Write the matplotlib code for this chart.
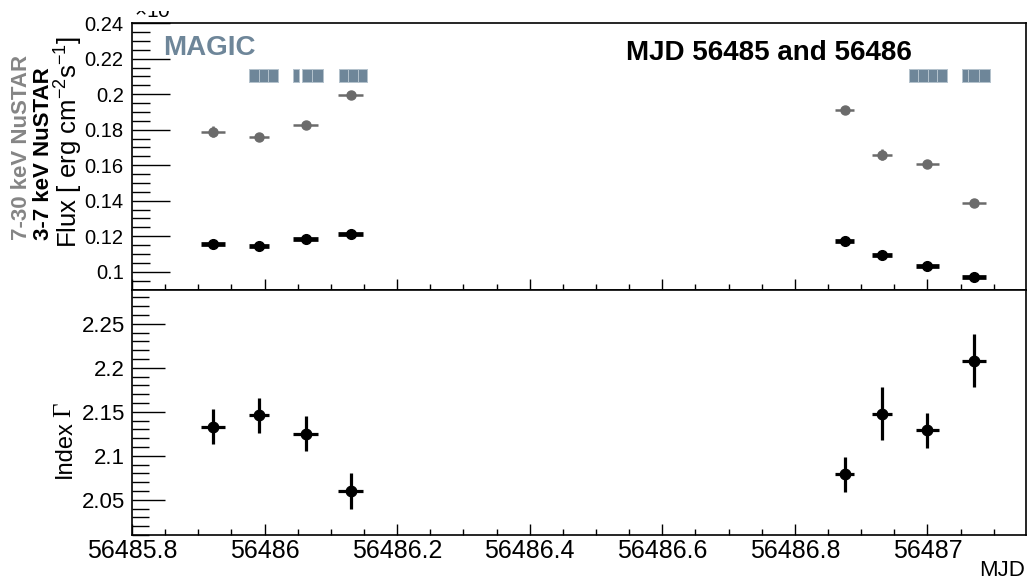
import matplotlib
matplotlib.use('Agg')

import matplotlib.pyplot as plt
from matplotlib.ticker import MultipleLocator, FuncFormatter
from matplotlib.transforms import Bbox

# --------------------------------------------------------------------------------------
# Data (flux in units of 1e-9 erg cm^-2 s^-1)

mjd         = [56485.922, 56485.992, 56486.062, 56486.130, 56486.875, 56486.932, 56487.000, 56487.070]
mjd_err     = [0.018, 0.015, 0.019, 0.019, 0.015, 0.015, 0.017, 0.018]

flux_3_7    = [0.1154, 0.1146, 0.1184, 0.1212, 0.1173, 0.1096, 0.1030, 0.0970]
flux_3_7_e  = [0.0008, 0.0008, 0.0008, 0.0008, 0.0008, 0.0008, 0.0008, 0.0008]

flux_7_30   = [0.1789, 0.1760, 0.1828, 0.1996, 0.1913, 0.1659, 0.1607, 0.1389]
flux_7_30_e = [0.0030, 0.0015, 0.0015, 0.0015, 0.0015, 0.0030, 0.0020, 0.0015]

index       = [2.133, 2.146, 2.125, 2.060, 2.079, 2.148, 2.129, 2.208]
index_err   = [0.020, 0.020, 0.020, 0.020, 0.020, 0.030, 0.020, 0.030]

# MAGIC observation windows (start, duration) in MJD
magic_obs = [(56485.977, 0.0143), (56485.9913, 0.0143), (56486.0056, 0.0143),
             (56486.043, 0.009),  (56486.056, 0.016),   (56486.072, 0.016),
             (56486.112, 0.0143), (56486.1263, 0.0143), (56486.1406, 0.0143),
             (56486.972, 0.01425), (56486.98625, 0.01425), (56487.0005, 0.01425), (56487.01475, 0.01425),
             (56487.052, 0.009),  (56487.062, 0.0165),  (56487.0785, 0.0165)]

# --------------------------------------------------------------------------------------
# Style

plt.rcParams['font.family'] = ['Liberation Sans', 'DejaVu Sans']
plt.rcParams['mathtext.fontset'] = 'custom'
plt.rcParams['mathtext.rm'] = 'Liberation Sans'
plt.rcParams['mathtext.it'] = 'Liberation Sans:italic'

magic_col = '#6e8699'
gray_col  = '#6b6b6b'

fig = plt.figure(figsize=(10.29, 5.82), dpi=100)
W, H = 1029.0, 582.0

ax1 = fig.add_axes([132 / W, 1 - 289.5 / H, 893.5 / W, 266.8 / H])
ax2 = fig.add_axes([132 / W, 1 - 535 / H, 893.5 / W, 245.5 / H])

xmin, xmax = 56485.8, 56487.148

def plain(x, pos):
    return '%g' % x

for ax in (ax1, ax2):
    ax.set_xlim(xmin, xmax)
    ax.xaxis.set_major_locator(MultipleLocator(0.2))
    ax.xaxis.set_minor_locator(MultipleLocator(0.05))
    ax.xaxis.set_major_formatter(FuncFormatter(plain))
    ax.yaxis.set_major_formatter(FuncFormatter(plain))
    ax.tick_params(axis='x', which='major', direction='in', length=8, width=1.0)
    ax.tick_params(axis='x', which='minor', direction='in', length=4, width=1.0)
    ax.tick_params(top=False, right=False, which='both')
    for s in ax.spines.values():
        s.set_linewidth(1.2)

# --------------------------------------------------------------------------------------
# Top panel: fluxes

ax1.errorbar(mjd, flux_7_30, xerr=mjd_err, yerr=flux_7_30_e, fmt='o', color=gray_col,
             ms=6.5, elinewidth=1.8, capsize=0, zorder=3)
ax1.errorbar(mjd, flux_3_7, xerr=mjd_err, yerr=flux_3_7_e, fmt='o', color='black',
             ms=7, elinewidth=3.4, capsize=0, zorder=3)

ax1.broken_barh(magic_obs, (0.2070, 0.0073), facecolor=magic_col, edgecolor='#b4c2cd',
                linewidth=0.7, zorder=2)

ax1.set_ylim(0.09, 0.2403)
ax1.yaxis.set_major_locator(MultipleLocator(0.02))
ax1.yaxis.set_minor_locator(MultipleLocator(0.005))
ax1.tick_params(axis='y', which='major', direction='in', length=27, width=1.0, labelsize=14.5, pad=6)
ax1.tick_params(axis='y', which='minor', direction='in', length=13, width=1.0)
ax1.tick_params(axis='x', labelbottom=False)

fig.text(163 / W, 1 - 55 / H, 'MAGIC', color=magic_col, fontsize=20, fontweight='bold', va='baseline')
fig.text(626 / W, 1 - 60 / H, 'MJD 56485 and 56486', fontsize=20, fontweight='bold', va='baseline')

# exponent label, cut at the top of the pad
t = fig.text(134 / W, 1 - 18 / H, r'$\times$10$^{-9}$', fontsize=15, va='baseline')
t.set_clip_box(Bbox.from_extents(0, 0, W, H - 11))
t.set_clip_on(True)

# stacked y-axis title: two band labels and the flux unit
fig.text(22 / W, 1 - 240 / H, '7-30 keV NuSTAR', color='#858585', fontsize=16, fontweight='bold',
         rotation=90, ha='center', va='bottom')
fig.text(43.5 / W, 1 - 240 / H, '3-7 keV NuSTAR', color='black', fontsize=16, fontweight='bold',
         rotation=90, ha='center', va='bottom')
fig.text(68.5 / W, 1 - 248 / H, r'Flux [ erg cm$^{-2}$s$^{-1}$]', fontsize=18.5,
         rotation=90, ha='center', va='bottom')

# --------------------------------------------------------------------------------------
# Bottom panel: photon index

ax2.errorbar(mjd, index, xerr=mjd_err, yerr=index_err, fmt='o', color='black',
             ms=7.5, elinewidth=2.3, capsize=0, zorder=3)

ax2.set_ylim(2.01, 2.289)
ax2.yaxis.set_major_locator(MultipleLocator(0.05))
ax2.yaxis.set_minor_locator(MultipleLocator(0.01))
ax2.tick_params(axis='y', which='major', direction='in', length=24, width=1.0, labelsize=16, pad=5)
ax2.tick_params(axis='y', which='minor', direction='in', length=12, width=1.0)
ax2.tick_params(axis='x', labelsize=18, pad=3)

fig.text(65 / W, 1 - 478 / H, 'Index', fontsize=17, rotation=90, ha='center', va='bottom')
fig.text(64 / W, 1 - 417 / H, '\u0393', fontsize=18, family='Liberation Serif',
         rotation=90, ha='center', va='bottom')

fig.text(1025 / W, 1 / H, 'MJD', fontsize=16, ha='right', va='bottom')

# --------------------------------------------------------------------------------------
# Save chart

fig.savefig('out.png', dpi=100)
